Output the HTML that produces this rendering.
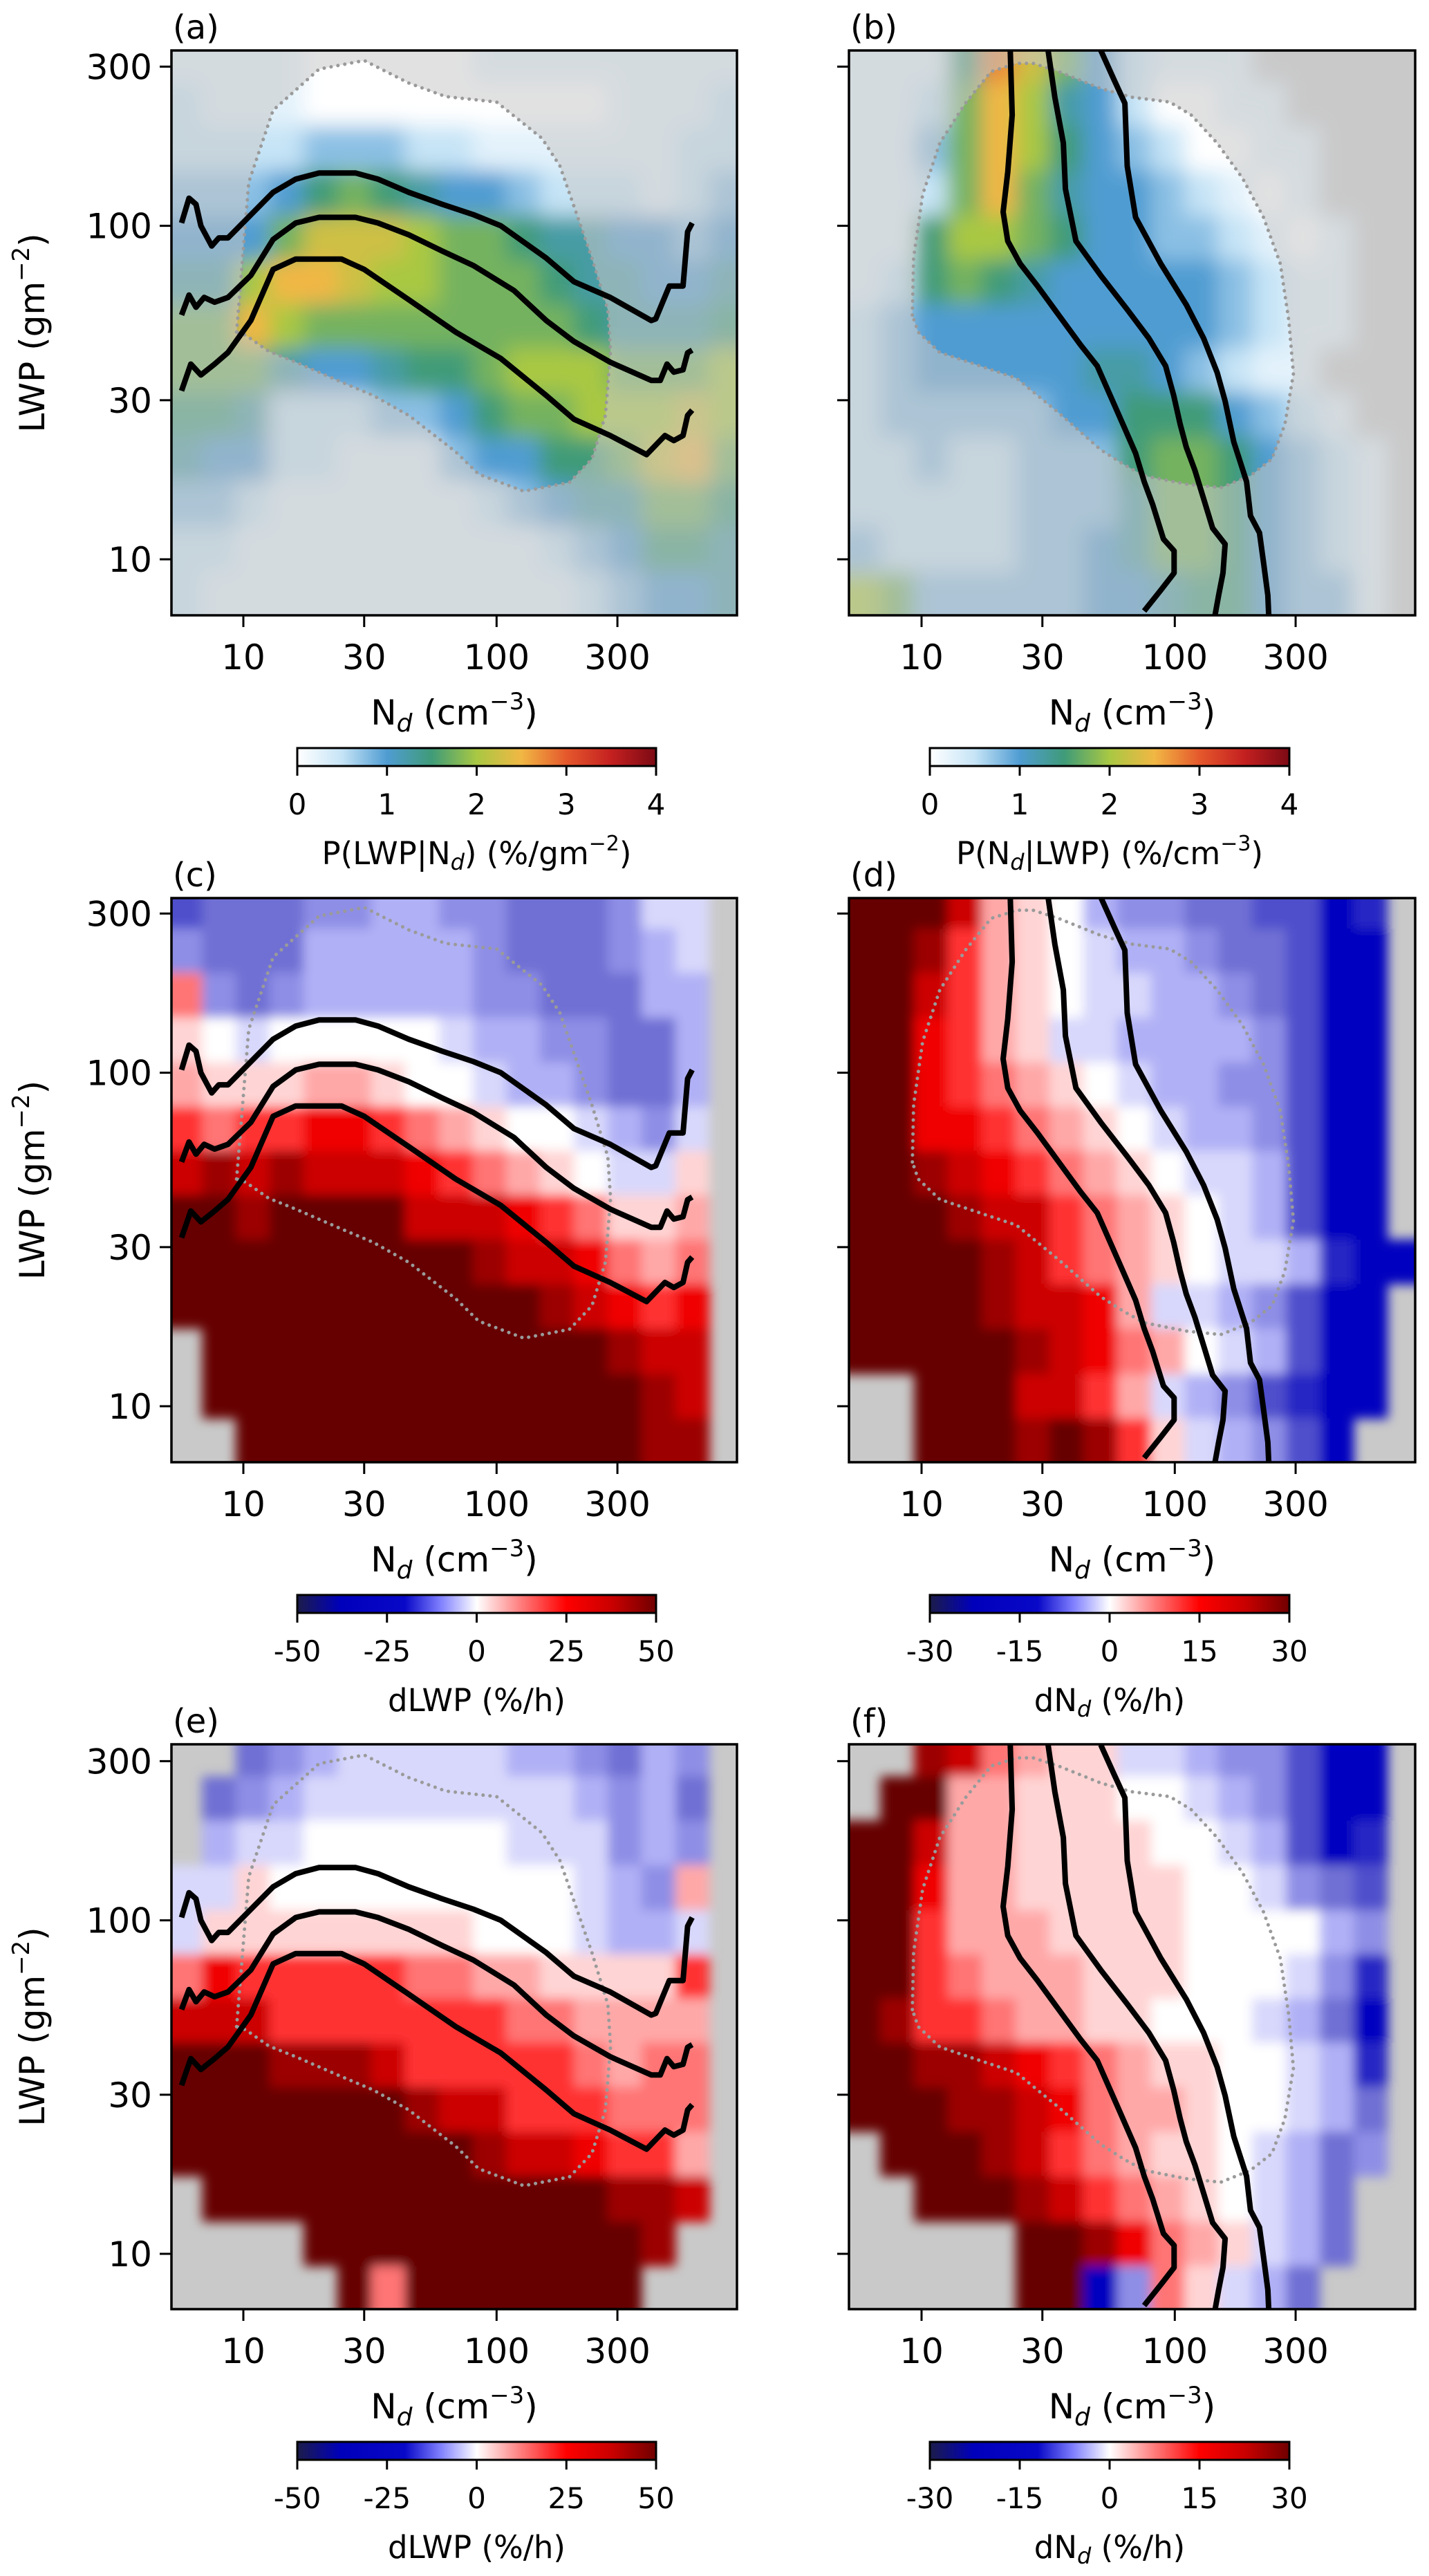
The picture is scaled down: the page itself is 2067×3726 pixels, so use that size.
<!DOCTYPE html>
<html><head><meta charset="utf-8">
<style>
html,body{margin:0;padding:0;background:#fff;}
svg{display:block;font-family:"DejaVu Sans","Liberation Sans",sans-serif;}
</style></head>
<body>
<svg id="fig" xmlns="http://www.w3.org/2000/svg" width="2067" height="3726" viewBox="0 0 2067 3726">
<defs>
<filter id="blurP" x="-5%" y="-5%" width="110%" height="110%"><feGaussianBlur stdDeviation="15"/></filter>
<filter id="blurS" x="-5%" y="-5%" width="110%" height="110%"><feGaussianBlur stdDeviation="8"/></filter>
<linearGradient id="gradP" x1="0" x2="1" y1="0" y2="0">
<stop offset="0" stop-color="#ffffff"/><stop offset="0.125" stop-color="#c6e4f6"/><stop offset="0.25" stop-color="#4f9cd2"/><stop offset="0.375" stop-color="#3f9b78"/><stop offset="0.5" stop-color="#a9c843"/><stop offset="0.625" stop-color="#f1b744"/><stop offset="0.75" stop-color="#e5582c"/><stop offset="0.875" stop-color="#c42020"/><stop offset="1" stop-color="#7c0a14"/>
</linearGradient>
<linearGradient id="gradS" x1="0" x2="1" y1="0" y2="0">
<stop offset="0" stop-color="#1c1c4a"/><stop offset="0.12" stop-color="#0000bb"/><stop offset="0.3" stop-color="#0808c8"/><stop offset="0.4" stop-color="#8080ff"/><stop offset="0.5" stop-color="#ffffff"/><stop offset="0.62" stop-color="#ff8080"/><stop offset="0.75" stop-color="#ff0000"/><stop offset="0.88" stop-color="#c80000"/><stop offset="1" stop-color="#700000"/>
</linearGradient>
</defs>
</svg>
<script>
// ---------- data ----------
const ND = [5.9,8.0,10.9,14.8,20.2,27.4,37.3,50.7,69,94,127,173,236,320,436,593,806];
const LWP = [315,232,171,125,92,68,50,37,27,20,14.6,10.7,7.9];
const X_TICKS = [10,30,100,300];
const Y_TICKS = [10,30,100,300];
const CB_P_TICKS = [0,1,2,3,4];
const CB_LWP_TICKS = [-50,-25,0,25,50];
const CB_ND_TICKS = [-30,-15,0,15,30];
// letters a..q : prob 0..4 (step .25); seismic -1..1 (i = 0); '.' = no data
const A_ROWS = ["bbbbaaaaabbbbbbbb","cbbbaaaaaaaaabbbc","ccccdddccbbbbbbcc","dddeghgfeedcccbcd","eeehjjjihhgffeede","ffikkjiihhhgffeef","hhkihhhhhhhhgfffg","hhhfeefgghiiihhhi","ggfcccddeghhiiiji","feeccbbbdeegghjkh","ddcbbbbbbcdeffhhg","ccbbbbbbbbbcdeggf","cbbbbbbbbbbbcdeef"];
const B_ROWS = ["bbbgljhecbbb.....","bbchkifecaabb....","bbdhkigedcaabb...","bbchkhfeedcbab...","bbgiihgeeddcbab..","bcghgfeeeeedcbb..","cdeeeeeeeeedcbb..","cdeeeeeffedcbb...","cdddddeegggedcb..","ccdccdddghhgedcb.","cccccdddfhhgedcb.","dccccddefhhgedcb.","ihdddddeefggeddb."];
const C_ROWS = ["deeeffggffeeefhh.","feeegggggfeeefgh.","lfefgggggffeeegg.","jihiiiiihggffeeg.","kjjjkkjiihggfeeg.","mlmmnnmlkjiihgfh.","opopooonmlkjihhj.","qqpqqqqooonmljjk.","qqqqqqqqqpoonlkl.","qqqqqqqqqqqponmn.",".qqqqqqqqqqqqpoo.",".qqqqqqqqqqqqqpo.","..qqqqqqqqqqqqpp."];
const D_ROWS = ["qqqokjigffeeddbc.","qqpmkjihggfeedbb.","qqomkjihhggfedbb.","qqnmkjhhggggfdbb.","qqnmlkjihggffdbb.","qqnnmlkjihggfdbb.","qqponmlkjihhgdbb.","qqqpoomlkjihgdbb.","qqqqpomlkjihhgcbb","qqqqpoonkhhgfdbb.","qqqqqponlkihgdbb.","..qqqoomkhgfdcbb.","..qqqpqpmjhgfdb.."];
const E_ROWS = ["..efghhhhhggfegf.",".efghhhhhhhhgfge.",".ghhiiiiiihhhfgf.","hhjiiiiiiiiihgfk.","hjjjjjjjjiiihggh.","lnmmmmmllkkjjjjm.","ooommmmmmmllkkkk.","qqqpppommmmmlkll.","qqqqqqqpoommmlll.","qqqqqqqqqpoonmmk.",".qqqqqqqqqqqqppo.","....qqqqqqqqqqp..",".....qlqqqqqqq..."];
const F_ROWS = ["..polkjjhhgffdbb.",".qqkkjjjiihgfdbb.","qqokkjjjjiihgdbc.","qqnkkjjjjjiihfed.","qqmkkkjjjjiiiigf.","qqmlkkkjjjiiihfc.","qpmmlkkjjiiihgeb.","qqpponmlkjjiihgc.","qqqpponlkkjiihge.",".qqqpomlkjjihgef.","..qqqpomlkjihge..",".....qqpnlkjhge..",".....qqbfljhge..."];
// dotted "core" contours [Nd, LWP]
const CONTOUR_LEFT = [[9.4,48],[10.5,135],[13.1,222],[19.9,295],[30,313],[45,268],[63,244],[100,235],[151,183],[178,151],[219,96],[238,80],[275,56],[282,42],[269,27],[238,20],[194,17],[128,16],[85,18],[69,21],[45,27],[32.6,31],[24.4,34],[16.1,39],[12.6,42],[10.2,47]];
const CONTOUR_RIGHT = [[9.2,54],[9.3,80],[10.1,124],[11.8,177],[14.9,233],[18.8,290],[23.7,307],[27.6,307],[34.8,290],[51,258],[67.5,243],[95.5,235],[116,215],[147,177],[185,139],[224,106],[261,77],[282,52],[294,36],[272,25.4],[242,20],[199,17.8],[152,16.4],[111,16.8],[75.7,17.8],[62.4,19.3],[51,21.3],[34.8,27.5],[23.7,34.9],[14.9,39.3],[11.8,41.7],[9.7,48]];
// quantile lines of LWP given Nd  [Nd, LWP]
const LWP_Q_HIGH = [[5.7,102],[6.1,121],[6.5,116],[6.8,100],[7.5,87],[8,92],[8.7,92],[10.2,104],[13.1,126],[16.1,138],[19.9,144],[27.7,144],[34,138],[45,126],[61,116],[81,108],[104,100],[157,80],[202,68],[281,61],[408,52],[425,52.6],[481,66],[545,66],[568,96],[592,102]];
const LWP_Q_MID = [[5.7,54],[6.1,62],[6.5,57],[7,61],[7.7,59],[8.7,61],[10.7,71],[13.1,91],[16.1,102],[19.9,106],[27.7,106],[34,102],[45,94],[61,84],[81,76],[117,64],[157,52],[202,45],[281,39],[408,34.4],[443,34.4],[471,38.5],[501,36.4],[545,37],[568,41.6],[592,42.4]];
const LWP_Q_LOW = [[5.7,32],[6.2,38.5],[6.8,35.7],[7.7,38.5],[8.7,41.7],[10.7,52],[13.1,74],[16.1,79.5],[19.9,79.5],[24.4,79.5],[30,74],[45,60],[69,48],[104,40],[157,31],[202,26.3],[281,23.5],[391,20.6],[462,23.5],[501,22.7],[545,23.5],[568,27],[592,28]];
// quantile lines of Nd given LWP  [LWP, Nd]
const ND_Q_LOW = [[336,22.4],[215,22.8],[145,21.9],[110,21],[90,21.9],[77,24.5],[66,28.7],[54,34.8],[44,42.4],[38,49.4],[31,55.6],[25.4,62.4],[20.8,70],[17.1,75.7],[14.6,81.8],[11.5,90.2],[10.6,99.4],[9.1,99.4],[8.1,88.3],[7.0,75.7]];
const ND_Q_MID = [[336,31.6],[243,33.6],[177,36.3],[129,37],[90,40.7],[71,51],[56,65],[46,79],[38,92],[31,99],[25.4,105],[21.7,111],[18.5,120],[15.2,130],[12.4,141],[11.1,158],[9.1,155],[7.8,149],[6.76,144]];
const ND_Q_HIGH = [[336,51],[273,57.7],[233,63.5],[151,64.9],[106,70],[77,88],[58,111],[46,130],[36.3,147],[29.8,158],[22.5,171],[17.1,192],[13.5,199],[12,216],[9.8,224],[7.8,233],[6.76,235]];

// ---------- layout ----------
const NS = "http://www.w3.org/2000/svg";
const svg = document.getElementById('fig');
const PX = [[248,1066],[1228,2047]];
const PY = [[73,890],[1299,2115],[2523,3340]];
const ROWBASE = [809,2034,3260];
const XDEC = 366.3, YDEC = 482.4;
function xS(nd,col){ return (col?1333:352) + XDEC*(Math.log10(nd)-1); }
function yS(l,row){ return ROWBASE[row] - YDEC*(Math.log10(l)-1); }

function hexRgb(h){ return [parseInt(h.substr(1,2),16),parseInt(h.substr(3,2),16),parseInt(h.substr(5,2),16)]; }
function interp(stops,v){
  if(v<=stops[0][0]) return stops[0][1];
  for(let k=1;k<stops.length;k++){
    if(v<=stops[k][0]){
      const f=(v-stops[k-1][0])/(stops[k][0]-stops[k-1][0]);
      const a=hexRgb(stops[k-1][1]), b=hexRgb(stops[k][1]);
      return 'rgb('+a.map((x,i)=>Math.round(x+(b[i]-x)*f)).join(',')+')';
    }
  }
  return stops[stops.length-1][1];
}
const CMAP_P = [[0,'#ffffff'],[0.5,'#c6e4f6'],[1,'#4f9cd2'],[1.5,'#3f9b78'],[2,'#a9c843'],[2.5,'#f1b744'],[3,'#e5582c'],[3.5,'#c42020'],[4,'#7c0a14']];
// seismic data palette, letters a..q (i = 0)
const SEIS = ['#000090','#0000c0','#2828c4','#5050cc','#7070d4','#8e8ee6','#b0b0f6','#d8d8fc','#ffffff','#ffd4d4','#ffa8a8','#ff7474','#ff3030','#f00000','#cc0000','#9c0000','#660000'];
function colorOf(ch,kind){
  const k = ch.charCodeAt(0)-97;
  if(kind==='p') return interp(CMAP_P, k*0.25);
  return SEIS[Math.max(0,Math.min(16,k))];
}
function mk(tag,attrs,parent){
  const e=document.createElementNS(NS,tag);
  for(const k in attrs) e.setAttribute(k,attrs[k]);
  (parent||svg).appendChild(e);
  return e;
}
function logEdges(vals){
  const L=vals.map(v=>Math.log10(v)); const n=L.length; const ed=[];
  for(let i=0;i<n;i++){
    const a = i===0 ? L[0]-3*(L[1]-L[0]) : (L[i-1]+L[i])/2;
    const b = i===n-1 ? L[i]+3*(L[i]-L[i-1]) : (L[i]+L[i+1])/2;
    ed.push([Math.min(a,b),Math.max(a,b)]);
  }
  return ed;
}
const XE = logEdges(ND), YE = logEdges(LWP);

function drawCells(parent,rows,kind,col,row){
  rows.forEach((str,j)=>{
    for(let i=0;i<str.length;i++){
      const ch=str[i]; if(ch==='.') continue;
      const x0=xS(Math.pow(10,XE[i][0]),col), x1=xS(Math.pow(10,XE[i][1]),col);
      const y0=yS(Math.pow(10,YE[j][1]),row), y1=yS(Math.pow(10,YE[j][0]),row);
      const r=mk('rect',{x:x0.toFixed(1),y:y0.toFixed(1),width:(x1-x0+0.6).toFixed(1),height:(y1-y0+0.6).toFixed(1),fill:colorOf(ch,kind)},parent);
      
      
    }
  });
}
function pathFrom(pts,col,row,swap,close){
  return pts.map((p,k)=>{
    const nd = swap?p[1]:p[0], l = swap?p[0]:p[1];
    return (k?'L':'M')+xS(nd,col).toFixed(1)+' '+yS(l,row).toFixed(1);
  }).join(' ')+(close?' Z':'');
}

function text(parent,x,y,html,opts){
  const t=mk('text',Object.assign({x:x,y:y,'font-size':50,fill:'#000'},opts||{}),parent);
  t.innerHTML=html;
  return t;
}
const ND_LABEL = 'N<tspan font-style="italic" font-size="36" dy="10">d</tspan><tspan dy="-10"> (cm</tspan><tspan font-size="34" dy="-22">−3</tspan><tspan dy="22">)</tspan>';
const LWP_LABEL = 'LWP (gm<tspan font-size="34" dy="-22">−2</tspan><tspan dy="22">)</tspan>';

const PANELS = [
 {id:'a',col:0,row:0,kind:'p',rows:A_ROWS,cb:'p',cbLabel:'P(LWP|N<tspan font-style="italic" font-size="32" dy="8">d</tspan><tspan dy="-8">) (%/gm</tspan><tspan font-size="30" dy="-20">−2</tspan><tspan dy="20">)</tspan>'},
 {id:'b',col:1,row:0,kind:'p',rows:B_ROWS,cb:'p',cbLabel:'P(N<tspan font-style="italic" font-size="32" dy="8">d</tspan><tspan dy="-8">|LWP) (%/cm</tspan><tspan font-size="30" dy="-20">−3</tspan><tspan dy="20">)</tspan>'},
 {id:'c',col:0,row:1,kind:'s',rows:C_ROWS,cb:'lwp',cbLabel:'dLWP (%/h)'},
 {id:'d',col:1,row:1,kind:'s',rows:D_ROWS,cb:'nd',cbLabel:'dN<tspan font-style="italic" font-size="32" dy="8">d</tspan><tspan dy="-8"> (%/h)</tspan>'},
 {id:'e',col:0,row:2,kind:'s',rows:E_ROWS,cb:'lwp',cbLabel:'dLWP (%/h)'},
 {id:'f',col:1,row:2,kind:'s',rows:F_ROWS,cb:'nd',cbLabel:'dN<tspan font-style="italic" font-size="32" dy="8">d</tspan><tspan dy="-8"> (%/h)</tspan>'}
];

const defs = svg.querySelector('defs');
PANELS.forEach(p=>{
  const x0=PX[p.col][0], x1=PX[p.col][1], y0=PY[p.row][0], y1=PY[p.row][1];
  const g=mk('g',{});
  
  
  const cp=mk('clipPath',{id:'clip-'+p.id},defs);
  mk('rect',{x:x0,y:y0,width:x1-x0,height:y1-y0},cp);
  const contourPts = p.col===0?CONTOUR_LEFT:CONTOUR_RIGHT;
  const cpc=mk('clipPath',{id:'core-'+p.id},defs);
  mk('path',{d:pathFrom(contourPts,p.col,p.row,false,true)},cpc);

  const bg=mk('rect',{x:x0,y:y0,width:x1-x0,height:y1-y0,fill:'#c9c9c9'},g);
  
  
  const inner=mk('g',{'clip-path':'url(#clip-'+p.id+')'},g);
  
  
  if(p.kind==='p'){
    const faded=mk('g',{filter:'url(#blurP)',opacity:'0.45'},inner);
    drawCells(faded,p.rows,'p',p.col,p.row);
    const coreClip=mk('g',{'clip-path':'url(#core-'+p.id+')'},inner);
    const core=mk('g',{filter:'url(#blurP)'},coreClip);
    drawCells(core,p.rows,'p',p.col,p.row);
  } else {
    const cg=mk('g',{filter:'url(#blurS)'},inner);
    drawCells(cg,p.rows,'s',p.col,p.row);
  }
  const dot=mk('path',{d:pathFrom(contourPts,p.col,p.row,false,true),fill:'none',stroke:'#9a9a9a','stroke-width':5,'stroke-dasharray':'0.1 10','stroke-linecap':'round'},inner);
  
  
  const lines = p.col===0?[LWP_Q_HIGH,LWP_Q_MID,LWP_Q_LOW]:[ND_Q_LOW,ND_Q_MID,ND_Q_HIGH];
  lines.forEach((ln,k)=>{
    const l=mk('path',{d:pathFrom(ln,p.col,p.row,p.col===1,false),fill:'none',stroke:'#000','stroke-width':8,'stroke-linejoin':'round'},inner);
    
    
  });
  const fr=mk('rect',{x:x0,y:y0,width:x1-x0,height:y1-y0,fill:'none',stroke:'#000','stroke-width':3.5},g);
  
  
  X_TICKS.forEach(v=>{
    const x=xS(v,p.col);
    const tk=mk('line',{x1:x,x2:x,y1:y1,y2:y1+17,stroke:'#000','stroke-width':3},g);
    
    
    const tl=text(g,x,y1+78,String(v),{'text-anchor':'middle'});
    
    
  });
  Y_TICKS.forEach(v=>{
    const y=yS(v,p.row);
    const tk=mk('line',{x1:x0-17,x2:x0,y1:y,y2:y,stroke:'#000','stroke-width':3},g);
    
    
    if(p.col===0){
      const tl=text(g,x0-28,y+18,String(v),{'text-anchor':'end'});
      
      
    }
  });
  const xl=text(g,(x0+x1)/2,y1+158,ND_LABEL,{'text-anchor':'middle'});
  
  
  if(p.col===0){
    const yc=(y0+y1)/2;
    const yl=text(g,0,0,LWP_LABEL,{'text-anchor':'middle',transform:'translate(64,'+yc+') rotate(-90)'});
    
    
  }
  const pl=text(g,x0+2,y0-17,'('+p.id+')',{'font-size':48});
  
  
  const cx0 = p.col===0?430:1345, cx1 = p.col===0?949:1865;
  const cy0 = 1082 + (p.row===0?0:(p.row===1?1225:2450));
  const cb=mk('g',{},g);
  
  
  const cr=mk('rect',{x:cx0,y:cy0,width:cx1-cx0,height:26,fill:p.cb==='p'?'url(#gradP)':'url(#gradS)',stroke:'#000','stroke-width':3},cb);
  
  
  const ticks = p.cb==='p'?CB_P_TICKS:(p.cb==='lwp'?CB_LWP_TICKS:CB_ND_TICKS);
  ticks.forEach((v,k)=>{
    const x = cx0 + (cx1-cx0)*k/(ticks.length-1);
    const tk=mk('line',{x1:x,x2:x,y1:cy0+26,y2:cy0+40,stroke:'#000','stroke-width':3},cb);
    
    
    const tl=text(cb,x,cy0+96,String(v),{'text-anchor':'middle','font-size':42});
    
    
  });
  const cl=text(cb,(cx0+cx1)/2,cy0+168,p.cbLabel,{'text-anchor':'middle','font-size':45});
  
  
});
</script>
</body></html>
